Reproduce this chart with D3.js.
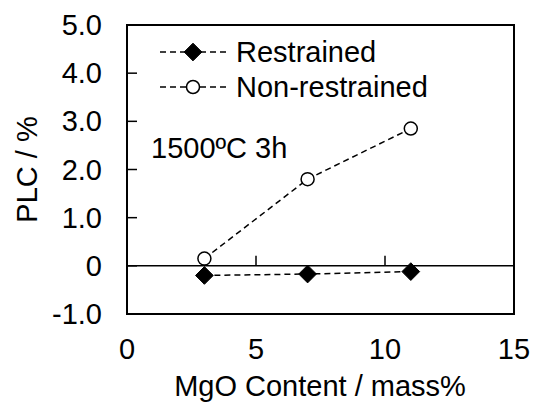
<!DOCTYPE html>
<html>
<head>
<meta charset="utf-8">
<script src="https://d3js.org/d3.v7.min.js"></script>
<style>
  body { margin: 0; background: #fff; }
  svg text { font-family: "Liberation Sans", Arial, sans-serif; fill: #000; }
</style>
</head>
<body>
<svg width="535" height="405"></svg>
<script>
// data
var mgo = [3, 7, 11];
var restrained = [-0.2, -0.17, -0.12];
var nonRestrained = [0.15, 1.8, 2.85];
var xTicks = [0, 5, 10, 15];
var yTicks = [-1, 0, 1, 2, 3, 4, 5];
var yTickLabels = ["-1.0", "0", "1.0", "2.0", "3.0", "4.0", "5.0"];

var svg = d3.select("svg");
var pLeft = 127, pRight = 514, pTop = 25, pBottom = 314;
var fs = 29;

var x = d3.scaleLinear().domain([0, 15]).range([pLeft, pRight]);
var y = d3.scaleLinear().domain([-1, 5]).range([pBottom, pTop]);

// frame
svg.append("rect")
  .attr("x", pLeft).attr("y", pTop)
  .attr("width", pRight - pLeft).attr("height", pBottom - pTop)
  .attr("fill", "none").attr("stroke", "#000").attr("stroke-width", 2);

// zero line + x ticks pointing up
svg.append("line")
  .attr("x1", pLeft).attr("x2", pRight)
  .attr("y1", y(0)).attr("y2", y(0))
  .attr("stroke", "#000").attr("stroke-width", 1.5);

svg.selectAll(".xt").data(xTicks.slice(1, -1)).enter().append("line")
  .attr("x1", d => x(d)).attr("x2", d => x(d))
  .attr("y1", y(0)).attr("y2", y(0) - 10)
  .attr("stroke", "#000").attr("stroke-width", 1.5);

// y ticks pointing in
svg.selectAll(".yt").data(yTicks.slice(1, -1)).enter().append("line")
  .attr("x1", pLeft).attr("x2", pLeft + 10)
  .attr("y1", d => y(d)).attr("y2", d => y(d))
  .attr("stroke", "#000").attr("stroke-width", 1.5);

// tick labels
svg.selectAll(".yl").data(yTicks).enter().append("text")
  .attr("x", 102).attr("y", d => y(d))
  .attr("dy", "0.35em")
  .attr("text-anchor", "end")
  .style("font-size", fs + "px")
  .text((d, i) => yTickLabels[i]);

svg.selectAll(".xl").data(xTicks).enter().append("text")
  .attr("x", d => x(d)).attr("y", 359)
  .attr("text-anchor", "middle")
  .style("font-size", fs + "px")
  .text(d => d);

// axis titles
svg.append("text")
  .attr("transform", "translate(37," + ((pTop + pBottom) / 2) + ") rotate(-90)")
  .attr("text-anchor", "middle")
  .style("font-size", fs + "px")
  .text("PLC / %");

svg.append("text")
  .attr("x", (pLeft + pRight) / 2 - 0.5).attr("y", 396)
  .attr("text-anchor", "middle")
  .style("font-size", fs + "px")
  .text("MgO Content / mass%");

// annotation
svg.append("text")
  .attr("x", 151).attr("y", 158)
  .style("font-size", fs + "px")
  .text("1500ºC 3h");

var line = d3.line().x(d => x(d[0])).y(d => y(d[1]));
var dash = "6,4";

function series(vals, marker) {
  var pts = mgo.map((m, i) => [m, vals[i]]);
  svg.append("path").datum(pts)
    .attr("d", line)
    .attr("fill", "none").attr("stroke", "#000")
    .attr("stroke-width", 1.5).attr("stroke-dasharray", dash);
  var g = svg.append("g");
  pts.forEach(p => marker(g, x(p[0]), y(p[1])));
}

function diamond(g, cx, cy) {
  g.append("path")
    .attr("d", d3.symbol().type(d3.symbolDiamond2).size(200)())
    .attr("transform", "translate(" + cx + "," + cy + ")")
    .attr("fill", "#000").attr("stroke", "#000").attr("stroke-width", 1);
}
function circle(g, cx, cy) {
  g.append("circle")
    .attr("cx", cx).attr("cy", cy).attr("r", 6.5)
    .attr("fill", "#fff").attr("stroke", "#000").attr("stroke-width", 1.5);
}

series(nonRestrained, circle);
series(restrained, diamond);

// legend
var legend = [
  { name: "Restrained", marker: diamond, y: 52 },
  { name: "Non-restrained", marker: circle, y: 87 }
];
legend.forEach(function (l) {
  svg.append("line")
    .attr("x1", 160).attr("x2", 227)
    .attr("y1", l.y).attr("y2", l.y)
    .attr("stroke", "#000").attr("stroke-width", 1.5)
    .attr("stroke-dasharray", dash);
  l.marker(svg, 193, l.y);
  svg.append("text")
    .attr("x", 236).attr("y", l.y)
    .attr("dy", "0.36em")
    .style("font-size", fs + "px")
    .text(l.name);
});
</script>
</body>
</html>
